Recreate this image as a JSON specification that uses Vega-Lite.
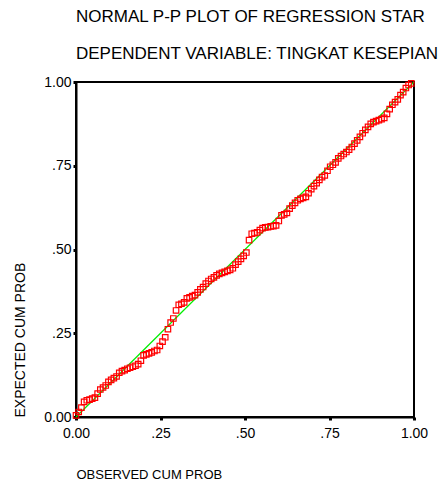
{
  "$schema": "https://vega.github.io/schema/vega-lite/v6.json",
  "width": 338,
  "height": 335,
  "autosize": {"type": "none"},
  "padding": {"left": 76, "top": 82, "right": 30, "bottom": 68},
  "background": "white",
  "title": {
    "text": ["NORMAL P-P PLOT OF REGRESSION STAR", "DEPENDENT VARIABLE: TINGKAT KESEPIAN"],
    "anchor": "start",
    "frame": "group",
    "font": "Liberation Sans",
    "fontSize": 17,
    "fontWeight": "normal",
    "color": "black",
    "lineHeight": 37,
    "offset": 12
  },
  "config": {
    "view": {"stroke": "black", "strokeWidth": 2},
    "axis": {
      "grid": false,
      "domainColor": "black",
      "domainWidth": 2,
      "tickColor": "black",
      "tickSize": 3,
      "tickWidth": 3,
      "labelFont": "Liberation Sans",
      "labelFontSize": 14,
      "labelColor": "black",
      "titleFont": "Liberation Sans",
      "titleFontSize": 13,
      "titleFontWeight": "normal",
      "titleColor": "black",
      "titleAnchor": "start"
    },
    "axisX": {"labelPadding": 6, "titlePadding": 28, "labelFlush": false},
    "axisY": {"labelPadding": 2, "titlePadding": 16, "titleFontSize": 14, "labelFlush": false}
  },
  "layer": [
    {
      "data": {"values": [{"observed": 0, "expected": 0}, {"observed": 1, "expected": 1}]},
      "mark": {"type": "line", "color": "#00ee00", "strokeWidth": 1.2},
      "encoding": {
        "x": {"field": "observed", "type": "quantitative", "scale": {"domain": [0, 1], "nice": false},
          "axis": {"title": "OBSERVED CUM PROB", "values": [0, 0.25, 0.5, 0.75, 1],
            "labelExpr": "datum.value == 0 ? '0.00' : datum.value == 1 ? '1.00' : replace(format(datum.value, '.2f'), '0.', '.')"}},
        "y": {"field": "expected", "type": "quantitative", "scale": {"domain": [0, 1], "nice": false},
          "axis": {"title": "EXPECTED CUM PROB", "values": [0, 0.25, 0.5, 0.75, 1],
            "labelExpr": "datum.value == 0 ? '0.00' : datum.value == 1 ? '1.00' : replace(format(datum.value, '.2f'), '0.', '.')"}}
      }
    },
    {
      "data": {"values": [
        {"observed": 0.000, "expected": 0.005}, {"observed": 0.008, "expected": 0.015}, {"observed": 0.016, "expected": 0.028},
        {"observed": 0.024, "expected": 0.045}, {"observed": 0.032, "expected": 0.050}, {"observed": 0.040, "expected": 0.052},
        {"observed": 0.048, "expected": 0.055}, {"observed": 0.056, "expected": 0.058}, {"observed": 0.064, "expected": 0.070},
        {"observed": 0.072, "expected": 0.082}, {"observed": 0.080, "expected": 0.088}, {"observed": 0.088, "expected": 0.094},
        {"observed": 0.096, "expected": 0.105}, {"observed": 0.104, "expected": 0.111}, {"observed": 0.112, "expected": 0.116},
        {"observed": 0.120, "expected": 0.121}, {"observed": 0.128, "expected": 0.132}, {"observed": 0.136, "expected": 0.137},
        {"observed": 0.144, "expected": 0.140}, {"observed": 0.152, "expected": 0.144}, {"observed": 0.160, "expected": 0.147},
        {"observed": 0.168, "expected": 0.150}, {"observed": 0.176, "expected": 0.153}, {"observed": 0.184, "expected": 0.158},
        {"observed": 0.192, "expected": 0.168}, {"observed": 0.200, "expected": 0.184}, {"observed": 0.208, "expected": 0.187},
        {"observed": 0.216, "expected": 0.190}, {"observed": 0.224, "expected": 0.193}, {"observed": 0.232, "expected": 0.197},
        {"observed": 0.240, "expected": 0.200}, {"observed": 0.248, "expected": 0.212}, {"observed": 0.256, "expected": 0.225},
        {"observed": 0.264, "expected": 0.238}, {"observed": 0.272, "expected": 0.262}, {"observed": 0.280, "expected": 0.282},
        {"observed": 0.288, "expected": 0.294}, {"observed": 0.296, "expected": 0.318}, {"observed": 0.304, "expected": 0.335},
        {"observed": 0.312, "expected": 0.338}, {"observed": 0.320, "expected": 0.342}, {"observed": 0.328, "expected": 0.354},
        {"observed": 0.336, "expected": 0.357}, {"observed": 0.344, "expected": 0.361}, {"observed": 0.352, "expected": 0.364},
        {"observed": 0.360, "expected": 0.372}, {"observed": 0.368, "expected": 0.381}, {"observed": 0.376, "expected": 0.388},
        {"observed": 0.384, "expected": 0.398}, {"observed": 0.392, "expected": 0.406}, {"observed": 0.400, "expected": 0.412},
        {"observed": 0.408, "expected": 0.417}, {"observed": 0.416, "expected": 0.423}, {"observed": 0.424, "expected": 0.427},
        {"observed": 0.432, "expected": 0.430}, {"observed": 0.440, "expected": 0.433}, {"observed": 0.448, "expected": 0.436},
        {"observed": 0.456, "expected": 0.439}, {"observed": 0.464, "expected": 0.444}, {"observed": 0.472, "expected": 0.455},
        {"observed": 0.480, "expected": 0.464}, {"observed": 0.488, "expected": 0.472}, {"observed": 0.496, "expected": 0.481},
        {"observed": 0.504, "expected": 0.491}, {"observed": 0.512, "expected": 0.528}, {"observed": 0.520, "expected": 0.547},
        {"observed": 0.528, "expected": 0.549}, {"observed": 0.536, "expected": 0.551}, {"observed": 0.544, "expected": 0.558},
        {"observed": 0.552, "expected": 0.564}, {"observed": 0.560, "expected": 0.566}, {"observed": 0.568, "expected": 0.567},
        {"observed": 0.576, "expected": 0.569}, {"observed": 0.584, "expected": 0.570}, {"observed": 0.592, "expected": 0.572},
        {"observed": 0.600, "expected": 0.585}, {"observed": 0.608, "expected": 0.602}, {"observed": 0.616, "expected": 0.605},
        {"observed": 0.624, "expected": 0.609}, {"observed": 0.632, "expected": 0.622}, {"observed": 0.640, "expected": 0.631},
        {"observed": 0.648, "expected": 0.639}, {"observed": 0.656, "expected": 0.647}, {"observed": 0.664, "expected": 0.651},
        {"observed": 0.672, "expected": 0.654}, {"observed": 0.680, "expected": 0.657}, {"observed": 0.688, "expected": 0.668},
        {"observed": 0.696, "expected": 0.680}, {"observed": 0.704, "expected": 0.689}, {"observed": 0.712, "expected": 0.698},
        {"observed": 0.720, "expected": 0.708}, {"observed": 0.728, "expected": 0.716}, {"observed": 0.736, "expected": 0.721},
        {"observed": 0.744, "expected": 0.735}, {"observed": 0.752, "expected": 0.747}, {"observed": 0.760, "expected": 0.753},
        {"observed": 0.768, "expected": 0.760}, {"observed": 0.776, "expected": 0.772}, {"observed": 0.784, "expected": 0.779},
        {"observed": 0.792, "expected": 0.785}, {"observed": 0.800, "expected": 0.791}, {"observed": 0.808, "expected": 0.798},
        {"observed": 0.816, "expected": 0.806}, {"observed": 0.824, "expected": 0.816}, {"observed": 0.832, "expected": 0.826},
        {"observed": 0.840, "expected": 0.836}, {"observed": 0.848, "expected": 0.847}, {"observed": 0.856, "expected": 0.857},
        {"observed": 0.864, "expected": 0.866}, {"observed": 0.872, "expected": 0.875}, {"observed": 0.880, "expected": 0.880},
        {"observed": 0.888, "expected": 0.883}, {"observed": 0.896, "expected": 0.886}, {"observed": 0.904, "expected": 0.889},
        {"observed": 0.912, "expected": 0.893}, {"observed": 0.920, "expected": 0.905}, {"observed": 0.928, "expected": 0.919},
        {"observed": 0.936, "expected": 0.932}, {"observed": 0.944, "expected": 0.940}, {"observed": 0.952, "expected": 0.948},
        {"observed": 0.960, "expected": 0.961}, {"observed": 0.968, "expected": 0.970}, {"observed": 0.976, "expected": 0.982},
        {"observed": 0.984, "expected": 0.991}, {"observed": 0.992, "expected": 0.996}
      ]},
      "mark": {"type": "point", "shape": "square", "filled": false, "color": "#ff0000", "size": 30, "strokeWidth": 1.2, "opacity": 1},
      "encoding": {
        "x": {"field": "observed", "type": "quantitative"},
        "y": {"field": "expected", "type": "quantitative"}
      }
    }
  ]
}
